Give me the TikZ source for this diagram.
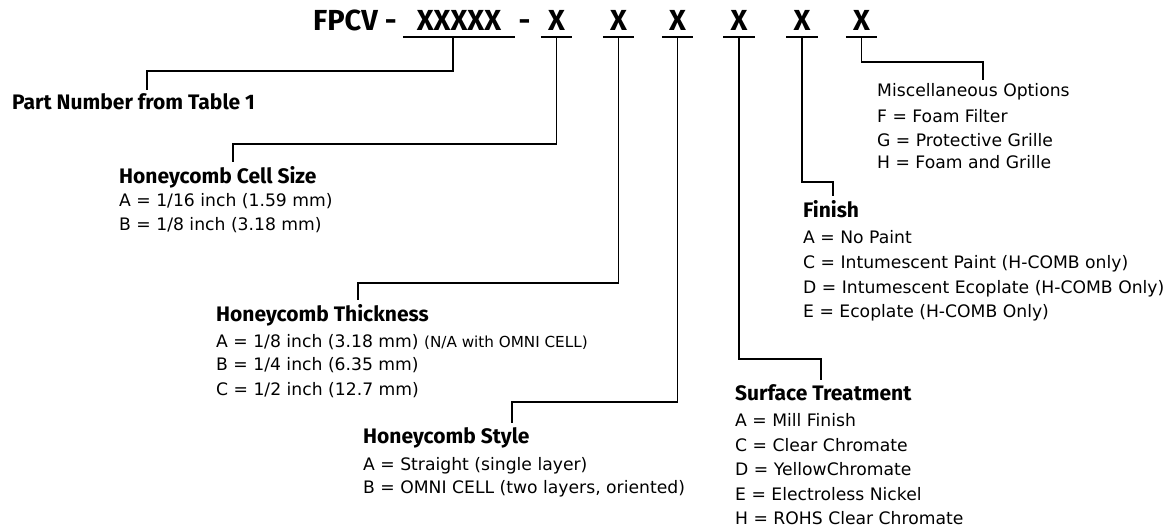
\documentclass[tikz,border=0pt]{standalone}
\usepackage{fontspec}
\setmainfont{DejaVu Sans}
\newfontfamily\headfont{Fira Sans}
\begin{document}
\begin{tikzpicture}[x=1pt,y=-1pt,
  code/.style={font=\headfont\fontsize{29}{32}\selectfont\bfseries,inner sep=0pt,text depth=6pt,anchor=base},
  head/.style={font=\headfont\fontsize{21}{24}\selectfont\bfseries,inner xsep=0pt,inner ysep=4pt,anchor=base west},
  item/.style={font=\fontsize{17.2}{21}\selectfont,inner sep=0pt,anchor=base west},
  conn/.style={line width=1.6pt}]
\useasboundingbox (0,0) rectangle (1173,532);
% part code
\node[code,anchor=base west] (fp) at (313,31) {FPCV -};
\node[code,minimum width=112pt] (xp) at (459,31) {XXXXX};
\node[code] (dh) at (524.5,31) {-};
\foreach \n/\x in {1/556.5,2/618.5,3/677.5,4/739,5/802,6/861.5}{\node[code,minimum width=31pt] (x\n) at (\x,31) {X};}
\foreach \n in {p,1,2,3,4,5,6}{\draw[conn] (x\n.south west) -- (x\n.south east);}
% corners
\coordinate (kpn) at (147,71);\coordinate (kcs) at (233,144);\coordinate (kth) at (358,283);\coordinate (kst) at (512,402);
\coordinate (ksu) at (821,359);\coordinate (kfi) at (833,182);\coordinate (kmi) at (983,62);
% part number
\node[head] (pn) at (12,110) {Part Number from Table 1};
% cell size
\node[head] (cs) at (119,183) {Honeycomb Cell Size};
\foreach \y/\txt [count=\i] in {207/{A = 1/16 inch (1.59 mm)},230/{B = 1/8 inch (3.18 mm)}}{\node[item] (cs\i) at (119,\y) {\txt};}
% thickness
\node[head] (th) at (216,321) {Honeycomb Thickness};
\foreach \y/\txt [count=\i] in {347/{A = 1/8 inch (3.18 mm) {\fontsize{15.2}{18}\selectfont(N/A with OMNI CELL)}},370/{B = 1/4 inch (6.35 mm)},395/{C = 1/2 inch (12.7 mm)}}{\node[item] (th\i) at (216,\y) {\txt};}
% style
\node[head] (st) at (363,443) {Honeycomb Style};
\foreach \y/\txt [count=\i] in {470/{A = Straight (single layer)},493/{B = OMNI CELL (two layers, oriented)}}{\node[item] (st\i) at (363,\y) {\txt};}
% surface
\node[head] (su) at (735,400) {Surface Treatment};
\foreach \y/\txt [count=\i] in {426/{A = Mill Finish},451/{C = Clear Chromate},475/{D = YellowChromate},500/{E = Electroless Nickel},524/{H = ROHS Clear Chromate}}{\node[item] (su\i) at (735,\y) {\txt};}
% finish
\node[head] (fi) at (803,217) {Finish};
\foreach \y/\txt [count=\i] in {243/{A = No Paint},268/{C = Intumescent Paint (H-COMB only)},293/{D = Intumescent Ecoplate (H-COMB Only)},317/{E = Ecoplate (H-COMB Only)}}{\node[item] (fi\i) at (803,\y) {\txt};}
% misc
\node[head,font=\fontsize{17.2}{21}\selectfont] (mi) at (877,97) {Miscellaneous Options};
\foreach \y/\txt [count=\i] in {123/{F = Foam Filter},147/{G = Protective Grille},168/{H = Foam and Grille}}{\node[item] (mi\i) at (877,\y) {\txt};}
% connectors
\draw[conn] ([xshift=-6pt]xp.south) |- (kpn) -- (kpn |- pn.north);
\draw[conn] (x1.south) |- (kcs) -- (kcs |- cs.north);
\draw[conn] (x2.south) |- (kth) -- (kth |- th.north);
\draw[conn] (x3.south) |- (kst) -- (kst |- st.north);
\draw[conn] (x4.south) |- (ksu) -- (ksu |- su.north);
\draw[conn] (x5.south) |- (kfi) -- (kfi |- fi.north);
\draw[conn] (x6.south) |- (kmi) -- (kmi |- mi.north);
\end{tikzpicture}
\end{document}
